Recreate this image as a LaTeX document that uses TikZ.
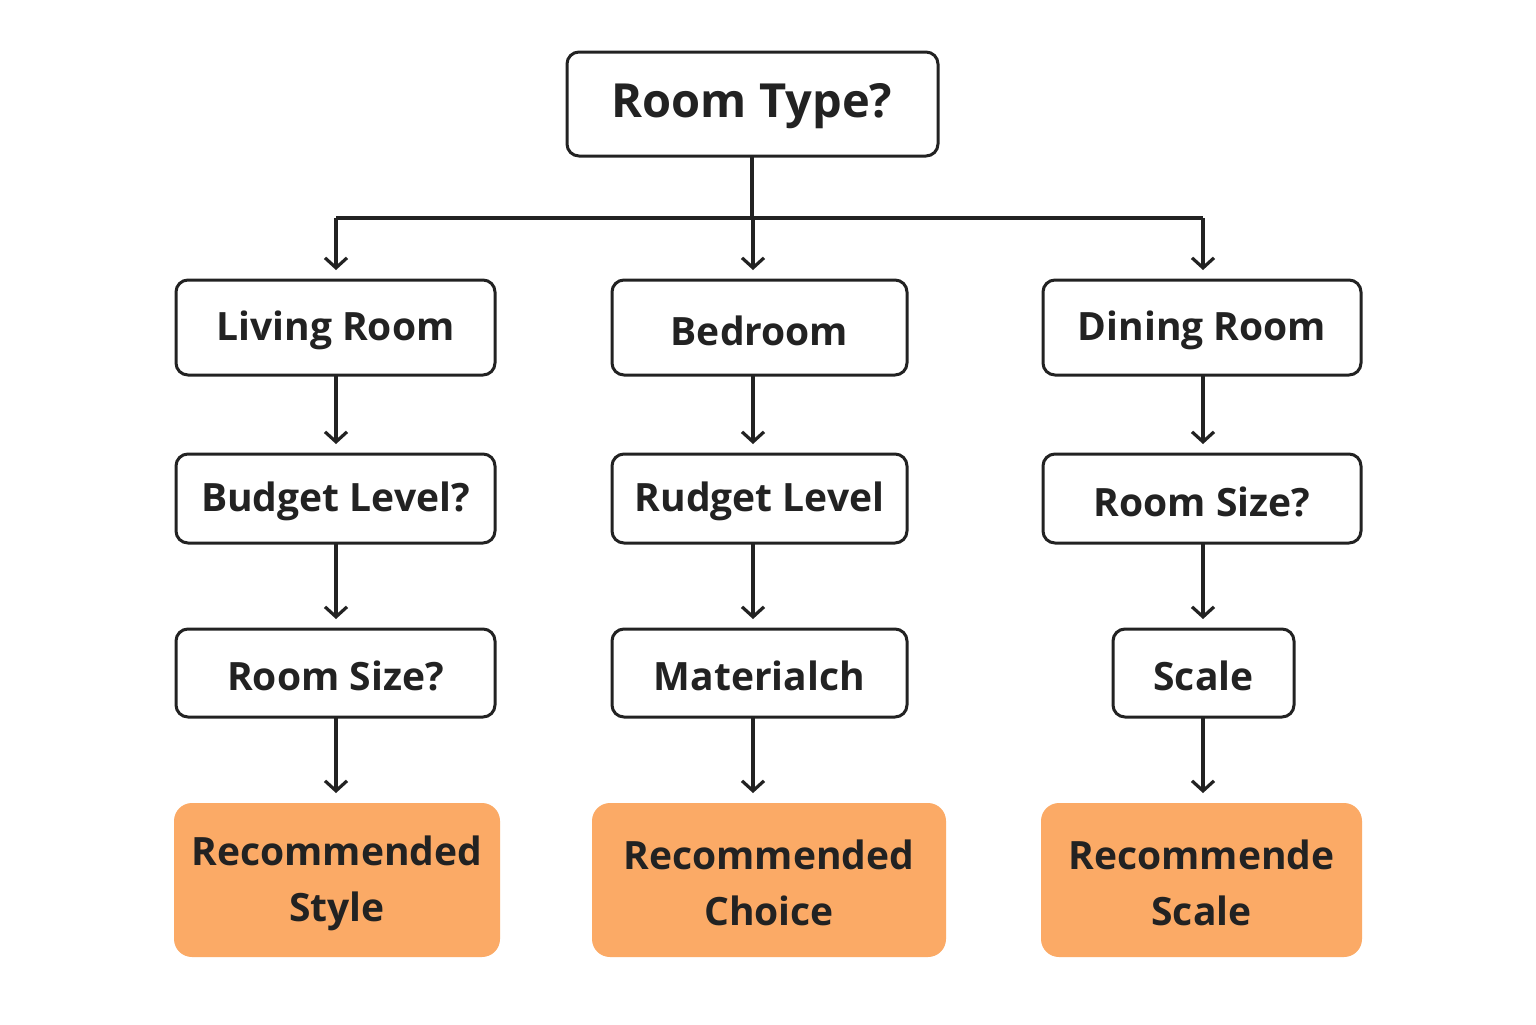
\documentclass[tikz,border=0pt]{standalone}
\usepackage{fontspec}
\setmainfont{Open Sans}
\usetikzlibrary{arrows.meta}
\definecolor{ink}{HTML}{222222}
\definecolor{org}{HTML}{FBAA66}
\begin{document}
\begin{tikzpicture}[x=0.5pt,y=-0.5pt,
  box/.style={draw=ink,line width=1.5pt,rounded corners=6pt,inner sep=0pt},
  obox/.style={fill=org,rounded corners=9pt,inner sep=0pt},
  lbl/.style={font=\fontsize{19.5}{28}\selectfont\bfseries,text=ink,align=center},
  arr/.style={draw=ink,line width=1.6pt,-{Straight Barb[length=5pt,width=11pt,line width=1.6pt]}}]
\useasboundingbox (0,0) rectangle (1536,1024);
\fill[white] (0,0) rectangle (1536,1024);
\newcommand{\bx}[8]{\path[#6] (#2,#3) rectangle (#4,#5);
  \node[lbl] (#1) at ({(#2+#4)/2},{(#3+#5)/2+3}) {#7};
  \coordinate (#1t) at (#8,#3-10); \coordinate (#1b) at (#8,#5);}
\draw[box] (567,52) rectangle (938,156);
\node[lbl,font=\fontsize{23.5}{28}\selectfont\bfseries] (root) at (752,106) {Room Type?};
\coordinate (rootb) at (752,156);
\bx{a1}{176}{280}{495}{375}{box}{Living Room}{336}
\bx{b1}{612}{280}{907}{375}{box}{Bedroom}{753}
\bx{c1}{1043}{280}{1361}{375}{box}{Dining Room}{1203}
\bx{a2}{176}{454}{495}{543}{box}{Budget Level?}{336}
\bx{b2}{612}{454}{907}{543}{box}{Rudget Level}{753}
\bx{c2}{1043}{454}{1361}{543}{box}{Room Size?}{1203}
\bx{a3}{176}{629}{495}{717}{box}{Room Size?}{336}
\bx{b3}{612}{629}{907}{717}{box}{Materialch}{753}
\bx{c3}{1113}{629}{1294}{717}{box}{Scale}{1203}
\bx{a4}{174}{803}{500}{957}{obox}{Recommended\\Style}{336}
\bx{b4}{592}{803}{946}{957}{obox}{Recommended\\Choice}{753}
\bx{c4}{1041}{803}{1362}{957}{obox}{Recommende\\Scale}{1203}
\coordinate (j) at (752,218);
\draw[draw=ink,line width=1.6pt] (rootb) -- (j);
\draw[draw=ink,line width=1.6pt] (a1t|-j) -- (c1t|-j);
\foreach \n in {a,b,c}{
  \draw[arr] (\n1t|-j) -- (\n1t);
  \draw[arr] (\n1b) -- (\n2t);
  \draw[arr] (\n2b) -- (\n3t);
  \draw[arr] (\n3b) -- (\n4t);}
\end{tikzpicture}
\end{document}
